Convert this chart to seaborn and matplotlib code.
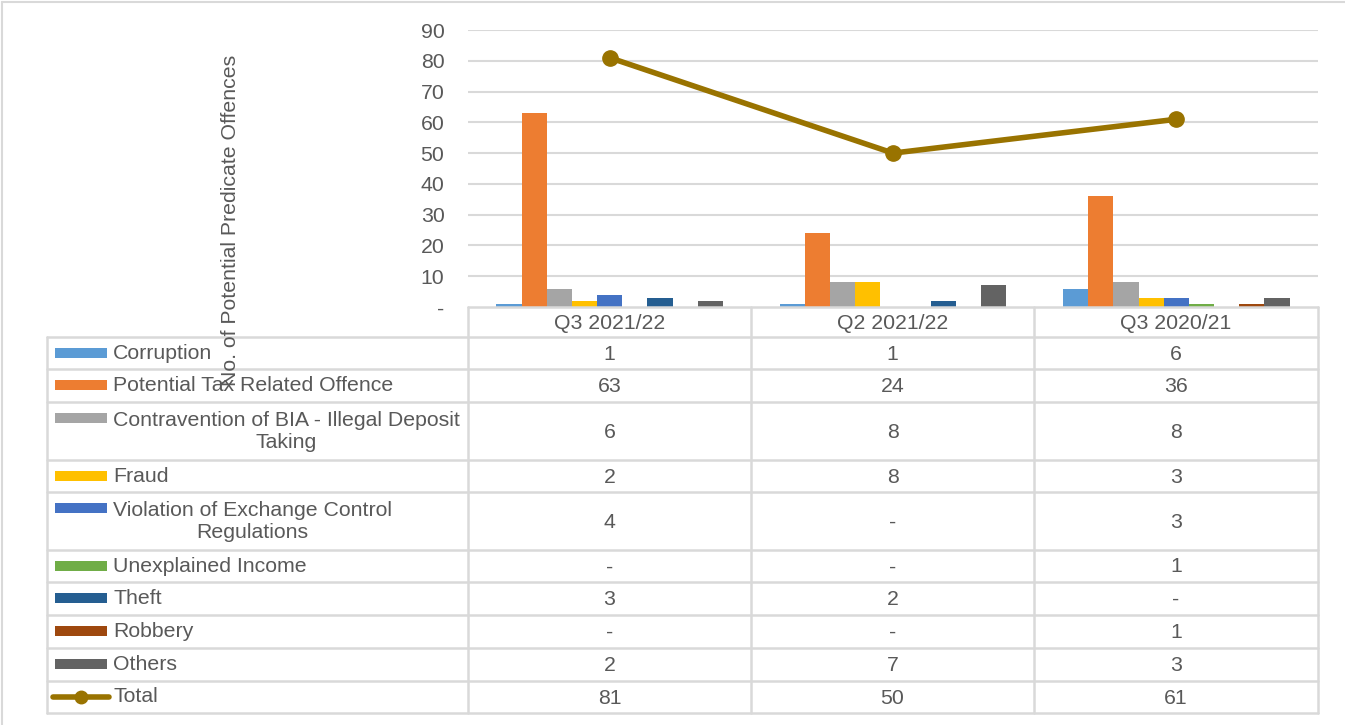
import matplotlib
matplotlib.use("Agg")
import matplotlib.pyplot as plt
import seaborn as sns
import pandas as pd
from matplotlib.lines import Line2D
from matplotlib.patches import Rectangle

# ---- data ----
quarters = ["Q3 2021/22", "Q2 2021/22", "Q3 2020/21"]
offences = ["Corruption", "Potential Tax Related Offence",
            "Contravention of BIA - Illegal Deposit\nTaking", "Fraud",
            "Violation of Exchange Control\nRegulations", "Unexplained Income",
            "Theft", "Robbery", "Others"]
corruption = [1, 1, 6]
tax_offence = [63, 24, 36]
bia_deposit = [6, 8, 8]
fraud = [2, 8, 3]
exchange_control = [4, 0, 3]
unexplained_income = [0, 0, 1]
theft = [3, 2, 0]
robbery = [0, 0, 1]
others = [2, 7, 3]
total = [81, 50, 61]
y_ticks = [0, 10, 20, 30, 40, 50, 60, 70, 80, 90]
y_tick_labels = ["-", "10", "20", "30", "40", "50", "60", "70", "80", "90"]

series = [corruption, tax_offence, bia_deposit, fraud, exchange_control,
          unexplained_income, theft, robbery, others]
colors = ["#5B9BD5", "#ED7D31", "#A5A5A5", "#FFC000", "#4472C4",
          "#70AD47", "#255E91", "#9E480E", "#636363"]
total_color = "#997300"

rows = []
for name, vals in zip(offences, series):
    for q, v in zip(quarters, vals):
        rows.append({"Quarter": q, "Offence": name, "Count": v})
df = pd.DataFrame(rows)

sns.set_theme(style="white")
plt.rcParams["font.family"] = ["Liberation Sans", "DejaVu Sans"]
txt = "#595959"
grid_c = "#D9D9D9"
FS = 15.3

W, H = 1345, 725
fig = plt.figure(figsize=(W / 100, H / 100), dpi=100)

x0, x1, ytop, ybot = 468, 1318, 30, 307
ax = fig.add_axes([x0 / W, 1 - ybot / H, (x1 - x0) / W, (ybot - ytop) / H])
sns.barplot(data=df, x="Quarter", y="Count", hue="Offence", order=quarters,
            hue_order=offences, palette=colors, width=0.8, ax=ax,
            legend=False, saturation=1, edgecolor="none", linewidth=0)
ax.plot(range(len(quarters)), total, color=total_color, lw=4, marker="o",
        markersize=11, zorder=5)
ax.set_xlim(-0.5, 2.5)
ax.set_ylim(0, 90)
ax.set_yticks(y_ticks)
ax.set_yticklabels(y_tick_labels)
ax.set_xticks([])
ax.set_xlabel("")
ax.set_ylabel("")
ax.tick_params(axis="y", length=0, pad=17, labelsize=FS, labelcolor=txt)
for t in y_ticks[1:]:
    ax.axhline(t, color=grid_c, lw=1.5, zorder=0)
for s in ax.spines.values():
    s.set_visible(False)

# overlay for the data table
ov = fig.add_axes([0, 0, 1, 1])
ov.set_xlim(0, W)
ov.set_ylim(H, 0)
ov.axis("off")
ov.patch.set_alpha(0)

fig.text(231 / W, 1 - 220 / H, "No. of Potential Predicate Offences",
         rotation=90, ha="center", va="center", fontsize=FS, color=txt)

left, cols = 47, [468, 751, 1034, 1318]
row_edges = [337, 369, 402, 460, 492, 550, 582, 615, 648, 681, 713]
lw_t = 1.8
# header
ov.plot([cols[0], cols[-1]], [307, 307], color=grid_c, lw=lw_t)
for c in cols:
    ov.plot([c, c], [307, row_edges[-1]], color=grid_c, lw=lw_t)
ov.plot([left, left], [row_edges[0], row_edges[-1]], color=grid_c, lw=lw_t)
for r in row_edges:
    ov.plot([left, cols[-1]], [r, r], color=grid_c, lw=lw_t)
centers = [(cols[i] + cols[i + 1]) / 2 for i in range(3)]
for cx, q in zip(centers, quarters):
    ov.text(cx, 323, q, ha="center", va="center", fontsize=FS, color=txt)

all_names = offences + ["Total"]
all_vals = series + [total]
all_cols = colors + [total_color]
for i, (name, vals, col) in enumerate(zip(all_names, all_vals, all_cols)):
    r0, r1 = row_edges[i], row_edges[i + 1]
    rc = (r0 + r1) / 2
    ky = r0 + 16
    if name == "Total":
        ov.add_line(Line2D([53, 109], [ky, ky], color=col, lw=4,
                           solid_capstyle="round"))
        ov.plot([81], [ky], marker="o", color=col, markersize=9)
    else:
        ov.add_patch(Rectangle((55, ky - 5), 52, 10, color=col, lw=0))
    ov.text(113, rc, name, ha="left", va="center", fontsize=FS, color=txt,
            multialignment="center", linespacing=1.2)
    for cx, v in zip(centers, vals):
        ov.text(cx, rc + 1, "-" if v == 0 else str(v), ha="center", va="center",
                fontsize=FS, color=txt)

# chart-area border (top and left visible in the crop)
ov.plot([1.5, W], [1.5, 1.5], color=grid_c, lw=1.5)
ov.plot([1.5, 1.5], [1.5, H], color=grid_c, lw=1.5)

fig.savefig("out.png", dpi=100, facecolor="white")
